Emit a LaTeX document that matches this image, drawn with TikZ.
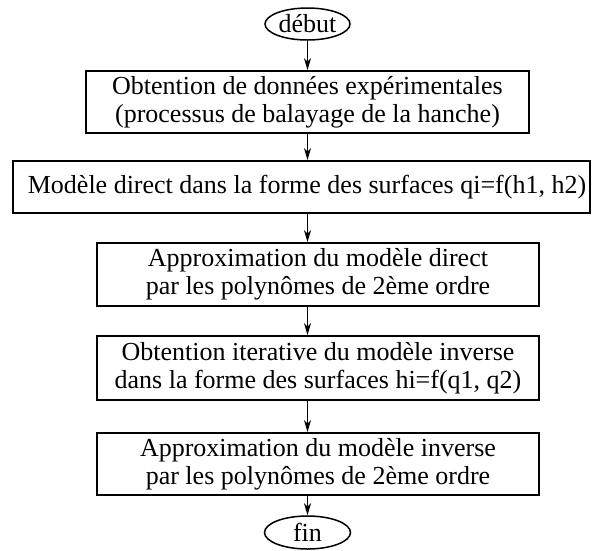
\documentclass[tikz,border=0pt]{standalone}
\usepackage{fontspec}
\setmainfont{Liberation Serif}
\usetikzlibrary{shapes.geometric,arrows.meta}
\begin{document}
\begin{tikzpicture}[x=1pt,y=-1pt,
  every node/.style={font=\fontsize{26}{28}\selectfont, inner sep=0pt},
  stepbox/.style={draw, line width=1.8pt, align=center},
  term/.style={draw, ellipse, line width=1.5pt, inner sep=0pt},
  conn/.style={line width=1.2pt, -{Stealth[length=12pt,width=7pt,inset=3.5pt]}}]
\useasboundingbox (0,0) rectangle (592,550);
\node[term, minimum width=85pt, minimum height=32pt] (debut) at (307.5,24) {début};
\node[stepbox, minimum width=443pt, minimum height=62pt] (b1) at (307.5,102) {Obtention de données expérimentales\\(processus de balayage de la hanche)};
\node[stepbox, minimum width=577pt, minimum height=52pt] (b2) at (301.5,187) {\hspace*{11pt}Modèle direct dans la forme des surfaces qi=f(h1, h2)};
\node[stepbox, minimum width=442pt, minimum height=63pt] (b3) at (318,274.5) {Approximation du modèle direct\\par les polynômes de 2ème ordre};
\node[stepbox, minimum width=442pt, minimum height=64pt] (b4) at (318,368) {Obtention iterative du modèle inverse\\dans la forme des surfaces hi=f(q1, q2)};
\node[stepbox, minimum width=442pt, minimum height=62pt] (b5) at (318,464) {Approximation du modèle inverse\\par les polynômes de 2ème ordre};
\node[term, minimum width=86pt, minimum height=33pt] (fin) at (307.5,532.5) {fin};
\draw[conn] (debut) -- (debut |- b1.north);
\draw[conn] (b1.south -| debut) -- (b2.north -| debut);
\draw[conn] (b2.south -| debut) -- (b3.north -| debut);
\draw[conn] (b3.south -| debut) -- (b4.north -| debut);
\draw[conn] (b4.south -| debut) -- (b5.north -| debut);
\draw[conn] (b5.south -| fin) -- (fin);
\end{tikzpicture}
\end{document}
